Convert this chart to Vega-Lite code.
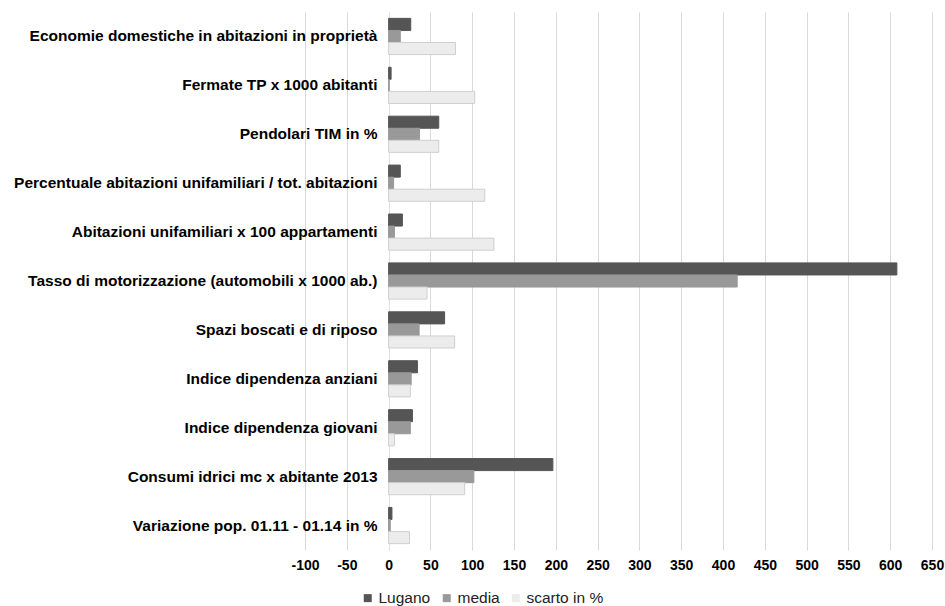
{
  "$schema": "https://vega.github.io/schema/vega-lite/v6.json",
  "autosize": {"type": "none"},
  "width": 627,
  "height": 538,
  "padding": {"left": 305, "top": 12, "right": 13, "bottom": 56},
  "background": "#ffffff",
  "config": {
    "view": {"stroke": null},
    "font": "Liberation Sans"
  },
  "data": {
    "values": [
      {"categoria": "Economie domestiche in abitazioni in proprietà", "serie": "Lugano", "valore": 26.5},
      {"categoria": "Economie domestiche in abitazioni in proprietà", "serie": "media", "valore": 14},
      {"categoria": "Economie domestiche in abitazioni in proprietà", "serie": "scarto in %", "valore": 80},
      {"categoria": "Fermate TP x 1000 abitanti", "serie": "Lugano", "valore": 3},
      {"categoria": "Fermate TP x 1000 abitanti", "serie": "media", "valore": 0.8},
      {"categoria": "Fermate TP x 1000 abitanti", "serie": "scarto in %", "valore": 103},
      {"categoria": "Pendolari TIM in %", "serie": "Lugano", "valore": 60},
      {"categoria": "Pendolari TIM in %", "serie": "media", "valore": 37},
      {"categoria": "Pendolari TIM in %", "serie": "scarto in %", "valore": 60},
      {"categoria": "Percentuale abitazioni unifamiliari / tot. abitazioni", "serie": "Lugano", "valore": 14},
      {"categoria": "Percentuale abitazioni unifamiliari / tot. abitazioni", "serie": "media", "valore": 6},
      {"categoria": "Percentuale abitazioni unifamiliari / tot. abitazioni", "serie": "scarto in %", "valore": 115},
      {"categoria": "Abitazioni unifamiliari x 100 appartamenti", "serie": "Lugano", "valore": 16.5},
      {"categoria": "Abitazioni unifamiliari x 100 appartamenti", "serie": "media", "valore": 7},
      {"categoria": "Abitazioni unifamiliari x 100 appartamenti", "serie": "scarto in %", "valore": 126},
      {"categoria": "Tasso di motorizzazione (automobili x 1000 ab.)", "serie": "Lugano", "valore": 608},
      {"categoria": "Tasso di motorizzazione (automobili x 1000 ab.)", "serie": "media", "valore": 417},
      {"categoria": "Tasso di motorizzazione (automobili x 1000 ab.)", "serie": "scarto in %", "valore": 46},
      {"categoria": "Spazi boscati e di riposo", "serie": "Lugano", "valore": 67},
      {"categoria": "Spazi boscati e di riposo", "serie": "media", "valore": 36.5},
      {"categoria": "Spazi boscati e di riposo", "serie": "scarto in %", "valore": 79},
      {"categoria": "Indice dipendenza anziani", "serie": "Lugano", "valore": 34.5},
      {"categoria": "Indice dipendenza anziani", "serie": "media", "valore": 27},
      {"categoria": "Indice dipendenza anziani", "serie": "scarto in %", "valore": 26},
      {"categoria": "Indice dipendenza giovani", "serie": "Lugano", "valore": 28.5},
      {"categoria": "Indice dipendenza giovani", "serie": "media", "valore": 26},
      {"categoria": "Indice dipendenza giovani", "serie": "scarto in %", "valore": 7},
      {"categoria": "Consumi idrici mc x abitante 2013", "serie": "Lugano", "valore": 196.5},
      {"categoria": "Consumi idrici mc x abitante 2013", "serie": "media", "valore": 102},
      {"categoria": "Consumi idrici mc x abitante 2013", "serie": "scarto in %", "valore": 91},
      {"categoria": "Variazione pop. 01.11 - 01.14 in %", "serie": "Lugano", "valore": 4},
      {"categoria": "Variazione pop. 01.11 - 01.14 in %", "serie": "media", "valore": 2},
      {"categoria": "Variazione pop. 01.11 - 01.14 in %", "serie": "scarto in %", "valore": 25}
    ]
  },
  "mark": {"type": "bar", "strokeWidth": 1},
  "encoding": {
    "y": {
      "field": "categoria",
      "type": "nominal",
      "sort": null,
      "scale": {"paddingInner": 0.26, "paddingOuter": 0.13},
      "axis": {
        "title": null,
        "offset": -84,
        "ticks": false,
        "domain": true,
        "domainColor": "#d6e2ee",
        "labelPadding": 12,
        "labelFontSize": 15.5,
        "labelFontWeight": "bold",
        "labelColor": "#000000",
        "labelLimit": 420
      }
    },
    "yOffset": {
      "field": "serie",
      "type": "nominal",
      "sort": ["Lugano", "media", "scarto in %"]
    },
    "x": {
      "field": "valore",
      "type": "quantitative",
      "scale": {"domain": [-100, 650], "nice": false, "zero": false},
      "axis": {
        "title": null,
        "values": [-100, -50, 0, 50, 100, 150, 200, 250, 300, 350, 400, 450, 500, 550, 600, 650],
        "labelExpr": "replace(datum.label, '−', '-')",
        "ticks": false,
        "domain": false,
        "grid": true,
        "gridColor": "#d9d9d9",
        "gridWidth": 1,
        "labelPadding": 8,
        "labelFontSize": 14,
        "labelFontWeight": "bold",
        "labelColor": "#000000",
        "labelFlush": false
      }
    },
    "color": {
      "field": "serie",
      "type": "nominal",
      "sort": ["Lugano", "media", "scarto in %"],
      "scale": {
        "domain": ["Lugano", "media", "scarto in %"],
        "range": ["#555555", "#999999", "#ececec"]
      },
      "legend": {
        "title": null,
        "orient": "none",
        "direction": "horizontal",
        "legendX": 55,
        "legendY": 578,
        "symbolType": "square",
        "symbolSize": 64,
        "symbolStrokeWidth": 0,
        "labelFontSize": 15.5,
        "labelColor": "#222222",
        "labelOffset": 3,
        "columnPadding": 8
      }
    },
    "stroke": {
      "field": "serie",
      "type": "nominal",
      "scale": {
        "domain": ["Lugano", "media", "scarto in %"],
        "range": ["#555555", "#999999", "#cfcfcf"]
      },
      "legend": null
    }
  }
}
